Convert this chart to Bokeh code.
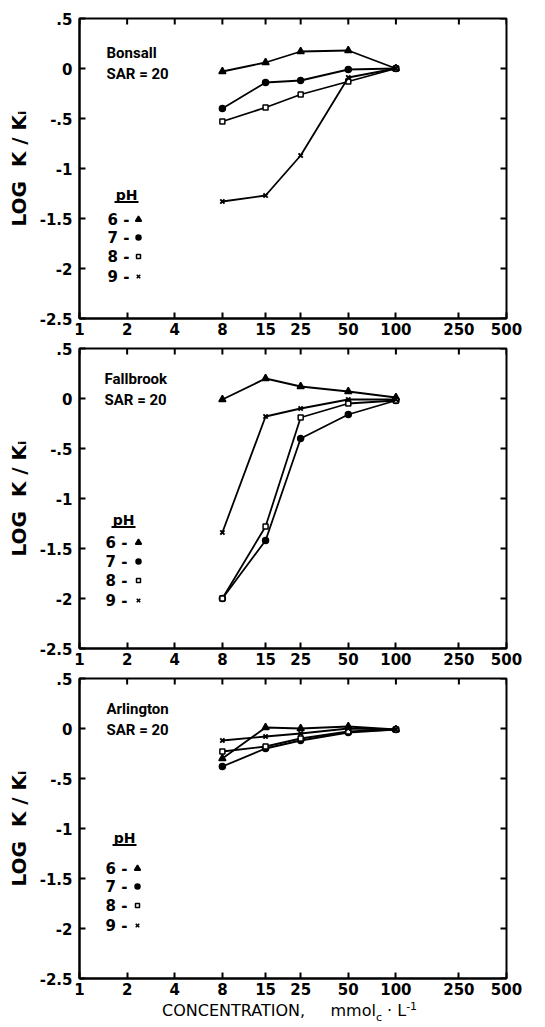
import math
from bokeh.plotting import figure
from bokeh.layouts import column
from bokeh.models import FixedTicker, Label, Range1d, NumeralTickFormatter, Div
from bokeh.embed import file_html
from bokeh.resources import INLINE

# ---------------- data ----------------
conc = [8, 15, 25, 50, 100]
x_ticks = [1, 2, 4, 8, 15, 25, 50, 100, 250, 500]
y_ticks = [0.5, 0, -0.5, -1, -1.5, -2, -2.5]
y_tick_labels = [".5", "0", "-.5", "-1", "-1.5", "-2", "-2.5"]
ph_levels = ["6", "7", "8", "9"]
sites = ["Bonsall", "Fallbrook", "Arlington"]

bonsall_ph6 = [-0.03, 0.06, 0.17, 0.18, 0.0]
bonsall_ph7 = [-0.40, -0.14, -0.12, -0.01, 0.0]
bonsall_ph8 = [-0.53, -0.39, -0.26, -0.13, 0.0]
bonsall_ph9 = [-1.33, -1.27, -0.87, -0.09, 0.0]

fallbrook_ph6 = [-0.01, 0.20, 0.12, 0.07, 0.01]
fallbrook_ph7 = [-2.0, -1.42, -0.40, -0.16, -0.02]
fallbrook_ph8 = [-2.0, -1.28, -0.19, -0.05, -0.02]
fallbrook_ph9 = [-1.34, -0.18, -0.10, -0.01, -0.01]

arlington_ph6 = [-0.30, 0.01, 0.0, 0.02, -0.01]
arlington_ph7 = [-0.38, -0.20, -0.12, -0.04, -0.01]
arlington_ph8 = [-0.23, -0.18, -0.10, -0.03, -0.01]
arlington_ph9 = [-0.12, -0.08, -0.05, 0.0, -0.01]

# ---------------- styling ----------------
FW, FH = 427, 300
FONT = "DejaVu Sans"
NB = "\u00a0"
markers = {"6": ("triangle", 7, "black"), "7": ("circle", 6, "black"),
           "8": ("square", 5, "white"), "9": ("x", 6, None)}


def xpix(px):
    """data x for a pixel offset px from the left edge of the frame"""
    return 10 ** (px / FW * math.log10(500))


def make_panel(site, series, leg, top, bottom):
    p = figure(x_axis_type="log", x_range=Range1d(1, 500), y_range=Range1d(-2.5, 0.5),
               frame_width=FW, frame_height=FH, min_border_left=79, min_border_right=39,
               min_border_top=top, min_border_bottom=bottom,
               output_backend="svg", toolbar_location=None)
    p.xgrid.visible = False
    p.ygrid.visible = False
    p.outline_line_color = "black"
    p.outline_line_width = 2
    p.background_fill_color = "white"
    p.border_fill_color = "white"

    xa = p.xaxis[0]
    xa.ticker = FixedTicker(ticks=x_ticks)
    xa.formatter = NumeralTickFormatter(format="0")
    xa.major_tick_in = 6
    xa.major_tick_out = 0
    xa.minor_tick_in = 0
    xa.minor_tick_out = 0
    xa.axis_line_width = 2
    xa.major_tick_line_width = 2
    xa.major_label_standoff = 4
    xa.major_label_text_font = FONT
    xa.major_label_text_font_style = "bold"
    xa.major_label_text_font_size = "15px"
    xa.major_label_text_color = "black"

    ya = p.yaxis[0]
    ya.ticker = FixedTicker(ticks=y_ticks)
    ya.major_label_overrides = {t: s for t, s in zip(y_ticks, y_tick_labels)}
    ya.major_tick_in = 6
    ya.major_tick_out = 0
    ya.minor_tick_in = 0
    ya.minor_tick_out = 0
    ya.axis_line_width = 2
    ya.major_tick_line_width = 2
    ya.major_label_standoff = 7
    ya.major_label_text_font = FONT
    ya.major_label_text_font_style = "bold"
    ya.major_label_text_font_size = "15px"
    ya.major_label_text_color = "black"
    ya.axis_label = "LOG" + NB * 2 + "K" + NB + "/" + NB + "K\u1d62"
    ya.axis_label_text_font = FONT
    ya.axis_label_text_font_style = "bold"
    ya.axis_label_text_font_size = "20px"
    ya.axis_label_text_color = "black"
    ya.axis_label_standoff = 6

    # inner ticks on the top and right edges, from the tick lists
    tick_len_y = 6 / FH * 3.0
    p.segment(x0=x_ticks, y0=[0.5] * len(x_ticks), x1=x_ticks,
              y1=[0.5 - tick_len_y] * len(x_ticks), line_color="black", line_width=2)
    p.segment(x0=[500] * len(y_ticks), y0=y_ticks, x1=[xpix(FW - 6)] * len(y_ticks),
              y1=y_ticks, line_color="black", line_width=2)

    # data
    for ph, vals in zip(ph_levels, series):
        p.line(conc, vals, line_color="black", line_width=1.8)
        m, s, fc = markers[ph]
        p.scatter(conc, vals, marker=m, size=s, fill_color=fc, line_color="black",
                  line_width=1.5 if m != "x" else 2)

    # site label
    for txt, yy in [(site, leg["site_y"]), ("SAR" + NB + "=" + NB + "20", leg["site_y"] - 0.21)]:
        p.add_layout(Label(x=1, y=yy, x_offset=leg["site_x"], text=txt, text_font="Roboto",
                           text_font_style="bold", text_font_size="15px", text_color="black",
                           text_baseline="middle", text_align="left"))

    # pH legend
    p.add_layout(Label(x=1, y=leg["ph_y"], x_offset=leg["ph_x"], text="pH",
                       text_font=FONT, text_font_style="bold", text_font_size="14px",
                       text_color="black", text_baseline="middle", text_align="center"))
    uy = leg["ph_y"] - 0.075
    p.segment(x0=[xpix(leg["ph_x"] - 12)], y0=[uy], x1=[xpix(leg["ph_x"] + 12)], y1=[uy],
              line_color="black", line_width=1.8)
    for i, ph in enumerate(ph_levels):
        yy = leg["rows"][i]
        p.add_layout(Label(x=1, y=yy, x_offset=leg["num_x"], text=ph + NB + "-",
                           text_font=FONT, text_font_style="bold", text_font_size="15px",
                           text_color="black", text_baseline="middle", text_align="left"))
        m, s, fc = markers[ph]
        p.scatter([xpix(leg["mk_x"])], [yy], marker=m, size=s - 1, fill_color=fc,
                  line_color="black", line_width=1.5)
    return p


leg1 = dict(site_x=27, site_y=0.16, ph_x=47, ph_y=-1.26, num_x=28, mk_x=59,
            rows=[-1.51, -1.69, -1.88, -2.08])
leg2 = dict(site_x=25, site_y=0.20, ph_x=44, ph_y=-1.21, num_x=26, mk_x=59,
            rows=[-1.44, -1.63, -1.82, -2.02])
leg3 = dict(site_x=27, site_y=0.20, ph_x=45, ph_y=-1.09, num_x=26, mk_x=58,
            rows=[-1.40, -1.58, -1.77, -1.97])

p1 = make_panel(sites[0], [bonsall_ph6, bonsall_ph7, bonsall_ph8, bonsall_ph9], leg1, 18, 23)
p2 = make_panel(sites[1], [fallbrook_ph6, fallbrook_ph7, fallbrook_ph8, fallbrook_ph9], leg2, 7, 23)
p3 = make_panel(sites[2], [arlington_ph6, arlington_ph7, arlington_ph8, arlington_ph9], leg3, 7, 21)

xlabel = Div(
    text=("<div style='position:relative; top:-5px; white-space:nowrap'>CONCENTRATION,"
          + "&nbsp;" * 5 + "mmol<sub style='font-size:11px'>c</sub>"
          "&nbsp;&middot;&nbsp;L<sup style='font-size:11px'>-1</sup></div>"),
    width=545, height=20,
    styles={"font-family": "DejaVu Sans", "font-size": "16px", "color": "black",
            "padding-left": "157px", "line-height": "16px"})

layout = column(p1, p2, p3, xlabel, spacing=0)
open("out.html", "w").write(file_html(layout, INLINE))
